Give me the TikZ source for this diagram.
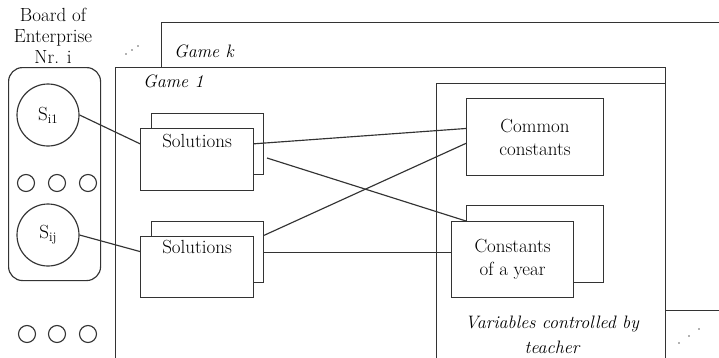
\documentclass[tikz,border=0pt]{standalone}
\usetikzlibrary{calc}
\begin{document}
\begin{tikzpicture}[x=1pt,y=-1pt,
  line/.style={draw=black!80, line width=1.15pt},
  txt/.style={font=\fontsize{19}{22}\selectfont, inner sep=0pt, text=black},
  itxt/.style={font=\fontsize{18}{22}\selectfont\itshape, inner sep=0pt, text=black},
  box/.style={line, fill=white, inner sep=0pt, anchor=north west, align=center,
              font=\fontsize{19}{23}\selectfont},
  dot/.style={circle, fill=black!60, inner sep=0pt, minimum size=1.6pt},
  smallring/.style={line, circle, inner sep=0pt, minimum size=17pt}]
\clip (0,0) rectangle (719,357);
\fill[white] (0,0) rectangle (719,357);

% stacked game frames
\node[box, minimum width=600, minimum height=288] (gamek) at (161,22) {};
\node[box, minimum width=550, minimum height=320] (game1) at (115,67) {};
\node[itxt, anchor=base west] (gk) at (174,57) {Game k};
\node[itxt, anchor=base west] (g1) at (143,87) {Game 1};

% teacher-controlled variables
\node[box, minimum width=229, minimum height=300] (vars) at (436,83) {};
\node[box, minimum width=137, minimum height=77] (common) at (466,98) {Common\\constants};
\node[box, minimum width=137, minimum height=77] (yearback) at (466,205) {};
\node[box, minimum width=122, minimum height=76] (year) at (451,221) {Constants\\of a year};
\node[itxt, anchor=base] (v1) at (552,328) {Variables controlled by};
\node[itxt, anchor=base] (v2) at (552,353) {teacher};

% solution stacks
\node[box, minimum width=112, minimum height=61] (sol1back) at (151,113) {};
\node[box, minimum width=113, minimum height=62] (sol1) at (140,128) {};
\node[txt, anchor=base] (sol1t) at ($(sol1.north)+(0,19)$) {Solutions};
\node[box, minimum width=112, minimum height=61] (sol2back) at (151,221) {};
\node[box, minimum width=113, minimum height=61] (sol2) at (140,236) {};
\node[txt, anchor=base] (sol2t) at ($(sol2.north)+(0,17)$) {Solutions};

% board of enterprise
\node[txt, anchor=base] (b1) at (53,21) {Board of};
\node[txt, anchor=base] (b2) at (53,42) {Enterprise};
\node[txt, anchor=base] (b3) at (53,63) {Nr. i};
\node[line, rounded corners=14pt, minimum width=92, minimum height=213,
      anchor=north west, inner sep=0pt] (board) at (8,67) {};
\node[line, circle, minimum size=62pt, inner sep=0pt, txt] (s1) at (48,115) {S{\fontsize{13}{13}\selectfont\raisebox{-3pt}{i1}}};
\node[line, circle, minimum size=62pt, inner sep=0pt, txt] (sj) at (48,235) {S{\fontsize{13}{13}\selectfont\raisebox{-3pt}{ij}}};
\node[smallring] (r1) at (26,183) {};
\node[smallring] (r2) at (57,183) {};
\node[smallring] (r3) at (88,183) {};
\node[smallring] (r4) at (27,334) {};
\node[smallring] (r5) at (57,334) {};
\node[smallring] (r6) at (88,334) {};

% ellipsis dots
\node[dot] (d1) at (126,54) {};
\node[dot] (d2) at (132,50) {};
\node[dot] (d3) at (138,46) {};
\node[dot] (d4) at (679,343) {};
\node[dot] (d5) at (689,336) {};
\node[dot] (d6) at (699,329) {};

% connectors
\draw[line] (s1.east) -- ($(sol1.north west)!0.25!(sol1.south west)$);
\draw[line] (sj.east) -- ($(sol2.north west)!0.25!(sol2.south west)$);
\draw[line] ($(sol1.north east)!0.25!(sol1.south east)$) -- ($(common.north west)!0.39!(common.south west)$);
\coordinate (x1) at (267,158);
\draw[line] (x1) -- (yearback.west |- year.north);
\draw[line] ($(sol2back.north east)!0.23!(sol2back.south east)$) -- ($(common.north west)!0.58!(common.south west)$);
\draw[line] (sol2back.east) -- (year.west |- sol2back.east);
\end{tikzpicture}
\end{document}
